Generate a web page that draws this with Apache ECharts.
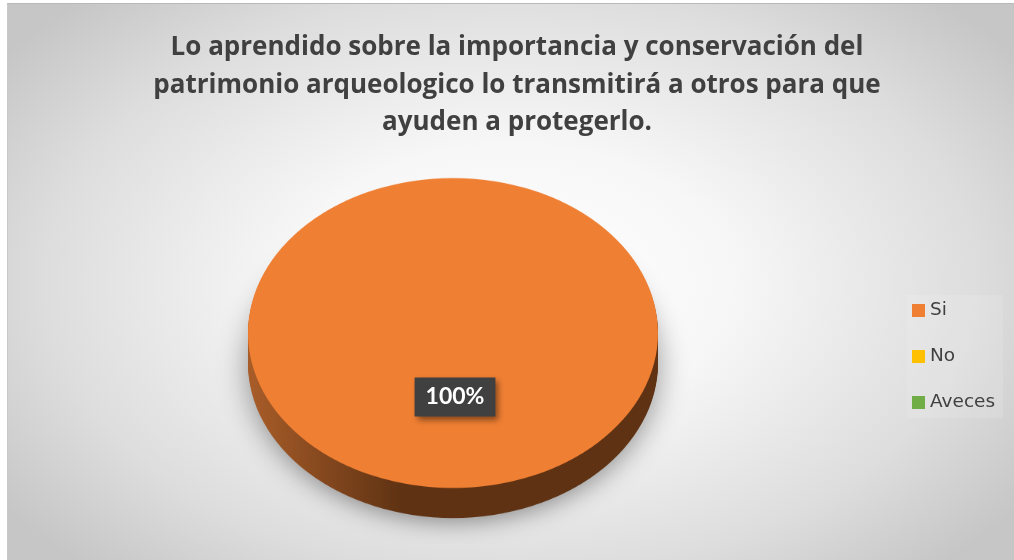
<!DOCTYPE html>
<html>
<head>
<meta charset="utf-8">
<script src="https://cdn.jsdelivr.net/npm/echarts@6/dist/echarts.min.js"></script>
<style>
  html, body { margin: 0; padding: 0; background: #ffffff; }
  #wrap { position: absolute; left: 0; top: 0; width: 1014px; height: 560px; overflow: hidden; background: #ffffff; }
  #bg { position: absolute; left: 7px; top: 3px; width: 1007px; height: 557px;
        background: radial-gradient(ellipse 62% 70% at 50% 50%, #ffffff 0%, #f7f7f7 35%, #dddddd 75%, #c6c6c6 100%);
        border-top: 1px solid #b8b8b8; border-left: 1px solid #c8c8c8; box-sizing: border-box; }
  #pie { position: absolute; left: 0; top: 0; width: 1014px; height: 720px; transform: scaleY(0.756); transform-origin: 0 0; }
  #top { position: absolute; left: 0; top: 0; width: 1014px; height: 560px; }
</style>
</head>
<body>
<div id="wrap">
  <div id="bg"></div>
  <div id="pie"></div>
  <div id="top"></div>
</div>
<script>
// ---- data ----
var titleText = 'Lo aprendido sobre la importancia y conservación del\npatrimonio arqueologico lo transmitirá a otros para que\nayuden a protegerlo.';
var categories = ['Si', 'No', 'Aveces'];
var values = [100, 0, 0];
var topColors = ['#EF7F33', '#FFC000', '#70AD47'];
var sideDark = ['#5E3213', '#7F6000', '#375623'];
var sideLight = ['#A95D29', '#B38600', '#4F7A32'];

// ---- 3D pie layer (vertically squashed) ----
var S = 0.756;
var cx = 453, cyTop = 333 / S, R = 205, depth = 30 / S;

function sideGradient(i) {
  return new echarts.graphic.LinearGradient(0, 0, 1, 0, [
    { offset: 0, color: sideLight[i] },
    { offset: 0.38, color: sideDark[i] },
    { offset: 1, color: sideDark[i] }
  ]);
}

var pieSeries = [];
for (var d = depth; d > 0; d -= 2) {
  pieSeries.push({
    type: 'pie', silent: true, animation: false,
    center: [cx, cyTop + d], radius: [0, R],
    startAngle: 90, clockwise: true,
    label: { show: false }, labelLine: { show: false },
    itemStyle: d === depth ? { shadowBlur: 30, shadowColor: 'rgba(0,0,0,0.4)', shadowOffsetY: 6 } : {},
    data: categories.map(function (c, i) {
      return { name: c, value: values[i], itemStyle: { color: sideGradient(i) } };
    })
  });
}
pieSeries.push({
  type: 'pie', silent: true, animation: false,
  center: [cx, cyTop], radius: [0, R],
  startAngle: 90, clockwise: true,
  label: { show: false }, labelLine: { show: false },
  data: categories.map(function (c, i) {
    return { name: c, value: values[i], itemStyle: { color: topColors[i] } };
  })
});

var pieChart = echarts.init(document.getElementById('pie'), null, { renderer: 'canvas' });
pieChart.setOption({ backgroundColor: 'transparent', animation: false, series: pieSeries });

// ---- title, legend and data label layer ----
var topChart = echarts.init(document.getElementById('top'), null, { renderer: 'canvas' });
topChart.setOption({
  backgroundColor: 'transparent',
  animation: false,
  title: {
    text: titleText,
    left: 517,
    textAlign: 'center',
    top: 29,
    padding: 0,
    textStyle: {
      fontFamily: 'Open Sans', fontWeight: 'bold', fontSize: 26, lineHeight: 37.5, color: '#404040'
    }
  },
  legend: {
    orient: 'vertical',
    left: 907,
    top: 295,
    padding: [6, 8, 6, 5],
    backgroundColor: 'rgba(255,255,255,0.12)',
    itemWidth: 13, itemHeight: 13, itemGap: 27,
    icon: 'rect',
    selectedMode: false,
    textStyle: { fontFamily: 'DejaVu Sans', fontSize: 18.5, lineHeight: 18, color: '#404040', padding: [0, 0, 0, 0] },
    data: categories.map(function (c, i) {
      return { name: c, itemStyle: { color: topColors[i] } };
    })
  },
  series: [{
    type: 'pie', silent: true, animation: false,
    center: [455, 397], radius: [0, 1],
    startAngle: 90,
    labelLine: { show: false },
    label: {
      position: 'center',
      formatter: '{d}%',
      fontFamily: 'Lato', fontWeight: 'bold', fontSize: 23, color: '#ffffff',
      backgroundColor: '#404040',
      padding: [8, 11, 8, 11],
      shadowBlur: 6, shadowOffsetX: 3, shadowOffsetY: 3, shadowColor: 'rgba(0,0,0,0.45)'
    },
    data: categories.map(function (c, i) {
      return { name: c, value: values[i], itemStyle: { color: topColors[i] }, label: { show: values[i] > 0 } };
    })
  }]
});
</script>
</body>
</html>
